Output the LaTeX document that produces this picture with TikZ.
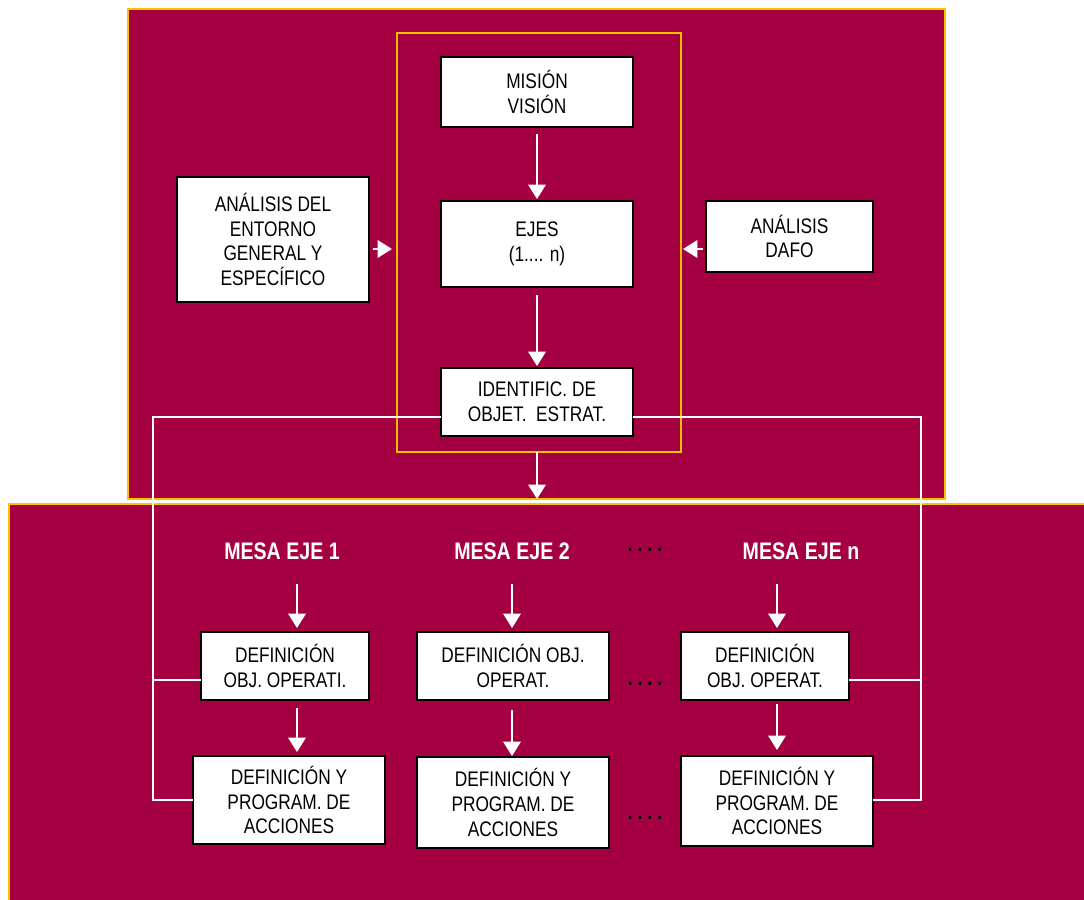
\documentclass[tikz,border=0pt]{standalone}
\usepackage{fontspec}
\setmainfont[FakeStretch=0.82]{Liberation Sans}
\usepackage{xcolor}
\usepackage{tikz}
\usetikzlibrary{positioning,arrows.meta}
\definecolor{granate}{RGB}{165,0,65}
\definecolor{oro}{RGB}{255,192,0}

\begin{document}
\begin{tikzpicture}[x=0.025cm, y=-0.025cm,
    every node/.style={align=center, font=\fontsize{15}{17.5}\selectfont},
    caja/.style={draw=black, line width=1.6pt, fill=white, inner sep=0pt, outer sep=0pt, minimum width=4.8cm},
    marco/.style={draw=oro, line width=1.4pt, inner sep=0pt, outer sep=0pt},
    flecha/.style={draw=white, line width=1.3pt, -{Triangle[width=0.44cm,length=0.36cm]}},
    enlace/.style={draw=white, line width=1pt},
    mesa/.style={text=white, font=\fontsize{17}{19}\selectfont\bfseries},
    puntos/.style={font=\fontsize{15}{17}\selectfont\bfseries}]
    \useasboundingbox[fill=white] (0,0) rectangle (1084,900);

    % marcos de fondo
    \node (arriba) [marco, fill=granate, minimum width=20.425cm, minimum height=12.25cm] at (536.5,254) {};
    \node (core) [marco, minimum width=7.1cm, minimum height=10.475cm] at (539,242.5) {};
    \node (abajo) [marco, fill=granate, minimum width=27.275cm, minimum height=10.4cm] at (554.5,712) {};

    % bloque superior
    \node (mision) [caja, minimum height=1.75cm] at (537,92) {MISIÓN\\VISIÓN};
    \node (ejes) [caja, minimum height=2.15cm] at (537,244) {EJES\\(1.... n)};
    \node (entorno) [caja, minimum height=3.125cm] at (273,239.5) {ANÁLISIS DEL\\ENTORNO\\GENERAL Y\\ESPECÍFICO};
    \node (dafo) [caja, minimum width=4.175cm, minimum height=1.775cm] at (789.5,236.5) {ANÁLISIS\\DAFO};
    \node (ident) [caja, minimum height=1.7cm] at (537,402) {IDENTIFIC. DE\\OBJET.\ \ ESTRAT.};

    % mesas
    \node (mesa1) [mesa] at (282,551) {MESA EJE 1};
    \node (mesa2) [mesa] at (512,551) {MESA EJE 2};
    \node (mesan) [mesa] at (801,551) {MESA EJE n};
    \node (puntos1) [puntos] at (645,550) {.\hspace{3.6pt}.\hspace{3.6pt}.\hspace{3.6pt}.};
    \node (puntos2) [puntos] at (645,684) {.\hspace{3.6pt}.\hspace{3.6pt}.\hspace{3.6pt}.};
    \node (puntos3) [puntos] at (645,818) {.\hspace{3.6pt}.\hspace{3.6pt}.\hspace{3.6pt}.};

    \node (def1) [caja, minimum width=4.2cm, minimum height=1.7cm] at (285,666) {DEFINICIÓN\\OBJ. OPERATI.};
    \node (def2) [caja, minimum height=1.7cm] at (513,666) {DEFINICIÓN OBJ.\\OPERAT.};
    \node (defn) [caja, minimum width=4.2cm, minimum height=1.7cm] at (765,666) {DEFINICIÓN\\OBJ. OPERAT.};

    \node (prog1) [caja, minimum height=2.2cm] at (289,800) {DEFINICIÓN Y\\PROGRAM. DE\\ACCIONES};
    \node (prog2) [caja, minimum height=2.275cm] at (513,802.5) {DEFINICIÓN Y\\PROGRAM. DE\\ACCIONES};
    \node (progn) [caja, minimum height=2.25cm] at (777,801) {DEFINICIÓN Y\\PROGRAM. DE\\ACCIONES};

    % lineas de enlace
    \coordinate (izqA) at (153,417);
    \coordinate (izqB) at (153,680);
    \coordinate (izqC) at (153,800);
    \coordinate (derA) at (921,417);
    \coordinate (derB) at (921,680);
    \coordinate (derC) at (921,800);
    \draw[enlace] (ident.west |- izqA) -- (izqA) -- (izqC) -- (prog1.west |- izqC);
    \draw[enlace] (izqB) -- (def1.west |- izqB);
    \draw[enlace] (ident.east |- derA) -- (derA) -- (derC) -- (progn.east |- derC);
    \draw[enlace] (derB) -- (defn.east |- derB);

    % flechas
    \coordinate (flechaY) at (0,249);
    \coordinate (col1) at (297,0);
    \coordinate (col2) at (512,0);
    \coordinate (coln) at (777,0);
    \draw[flecha, shorten <=0.175cm, shorten >=0.05cm] (mision) -- (ejes);
    \draw[flecha, shorten <=0.2cm, shorten >=0.05cm] (ejes) -- (ident);
    \draw[flecha, shorten >=0.125cm] (core.south -| ident) -- (abajo.north -| ident);
    \draw[flecha, shorten <=0.1cm, shorten >=0.125cm] (entorno.east |- flechaY) -- (core.west |- flechaY);
    \draw[flecha, shorten <=0.075cm, shorten >=0.05cm] (dafo.west |- flechaY) -- (core.east |- flechaY);

    \draw[flecha, shorten <=0.5cm, shorten >=0.1cm] (col1 |- mesa1.south) -- (col1 |- def1.north);
    \draw[flecha, shorten <=0.5cm, shorten >=0.1cm] (col2 |- mesa2.south) -- (col2 |- def2.north);
    \draw[flecha, shorten <=0.5cm, shorten >=0.1cm] (coln |- mesan.south) -- (coln |- defn.north);
    \draw[flecha, shorten <=0.2cm, shorten >=0.1cm] (col1 |- def1.south) -- (col1 |- prog1.north);
    \draw[flecha, shorten <=0.25cm, shorten >=0.025cm] (col2 |- def2.south) -- (col2 |- prog2.north);
    \draw[flecha, shorten <=0.1cm, shorten >=0.15cm] (coln |- defn.south) -- (coln |- progn.north);
\end{tikzpicture}
\end{document}
